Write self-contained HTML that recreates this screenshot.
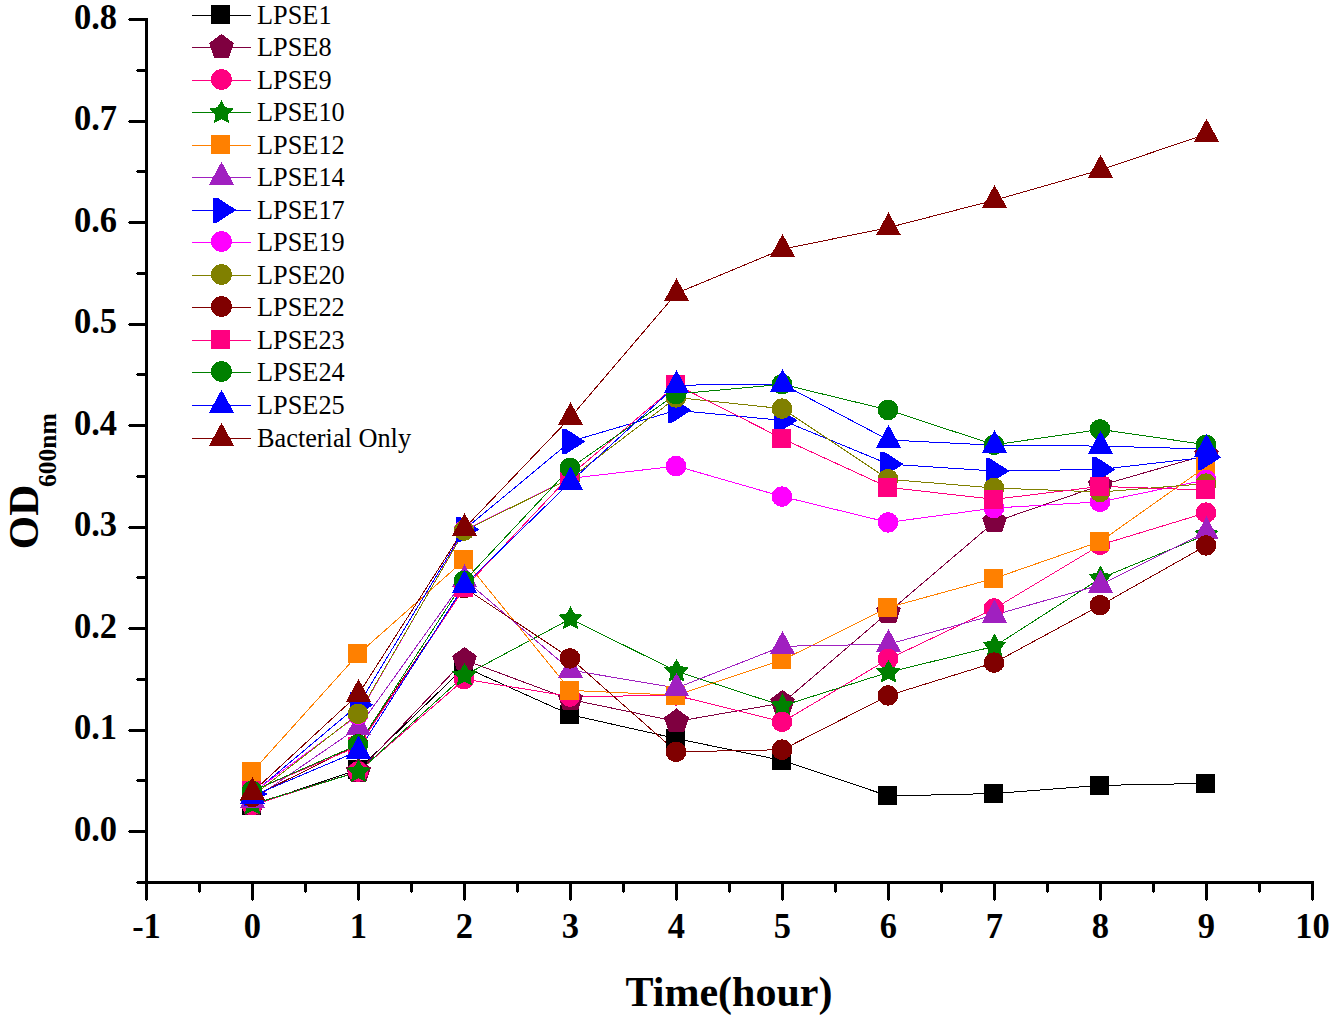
<!DOCTYPE html>
<html><head><meta charset="utf-8"><style>
html,body{margin:0;padding:0;background:#fff;}
svg{display:block;}
text{font-family:"Liberation Serif", serif;}
</style></head><body>
<svg width="1336" height="1016" viewBox="0 0 1336 1016">
<rect width="1336" height="1016" fill="#fff"/>

<g fill="#000" shape-rendering="crispEdges">
<rect x="145" y="18" width="3" height="882"/>
<rect x="137" y="881" width="1177" height="3"/>
<rect x="129" y="830.0" width="17" height="3"/>
<rect x="128" y="831.0" width="1" height="1"/>
<rect x="129" y="728.5" width="17" height="3"/>
<rect x="128" y="729.5" width="1" height="1"/>
<rect x="129" y="627.0" width="17" height="3"/>
<rect x="128" y="628.0" width="1" height="1"/>
<rect x="129" y="525.5" width="17" height="3"/>
<rect x="128" y="526.5" width="1" height="1"/>
<rect x="129" y="424.0" width="17" height="3"/>
<rect x="128" y="425.0" width="1" height="1"/>
<rect x="129" y="322.5" width="17" height="3"/>
<rect x="128" y="323.5" width="1" height="1"/>
<rect x="129" y="221.0" width="17" height="3"/>
<rect x="128" y="222.0" width="1" height="1"/>
<rect x="129" y="119.5" width="17" height="3"/>
<rect x="128" y="120.5" width="1" height="1"/>
<rect x="129" y="18.0" width="17" height="3"/>
<rect x="128" y="19.0" width="1" height="1"/>
<rect x="137" y="880.8" width="9" height="3"/>
<rect x="136" y="881.8" width="1" height="1"/>
<rect x="137" y="779.2" width="9" height="3"/>
<rect x="136" y="780.2" width="1" height="1"/>
<rect x="137" y="677.8" width="9" height="3"/>
<rect x="136" y="678.8" width="1" height="1"/>
<rect x="137" y="576.2" width="9" height="3"/>
<rect x="136" y="577.2" width="1" height="1"/>
<rect x="137" y="474.8" width="9" height="3"/>
<rect x="136" y="475.8" width="1" height="1"/>
<rect x="137" y="373.2" width="9" height="3"/>
<rect x="136" y="374.2" width="1" height="1"/>
<rect x="137" y="271.8" width="9" height="3"/>
<rect x="136" y="272.8" width="1" height="1"/>
<rect x="137" y="170.2" width="9" height="3"/>
<rect x="136" y="171.2" width="1" height="1"/>
<rect x="137" y="68.8" width="9" height="3"/>
<rect x="136" y="69.8" width="1" height="1"/>
<rect x="145.0" y="883" width="3" height="17"/>
<rect x="146.0" y="900" width="1" height="1"/>
<rect x="251.0" y="883" width="3" height="17"/>
<rect x="252.0" y="900" width="1" height="1"/>
<rect x="357.0" y="883" width="3" height="17"/>
<rect x="358.0" y="900" width="1" height="1"/>
<rect x="463.0" y="883" width="3" height="17"/>
<rect x="464.0" y="900" width="1" height="1"/>
<rect x="569.0" y="883" width="3" height="17"/>
<rect x="570.0" y="900" width="1" height="1"/>
<rect x="675.0" y="883" width="3" height="17"/>
<rect x="676.0" y="900" width="1" height="1"/>
<rect x="781.0" y="883" width="3" height="17"/>
<rect x="782.0" y="900" width="1" height="1"/>
<rect x="887.0" y="883" width="3" height="17"/>
<rect x="888.0" y="900" width="1" height="1"/>
<rect x="993.0" y="883" width="3" height="17"/>
<rect x="994.0" y="900" width="1" height="1"/>
<rect x="1099.0" y="883" width="3" height="17"/>
<rect x="1100.0" y="900" width="1" height="1"/>
<rect x="1205.0" y="883" width="3" height="17"/>
<rect x="1206.0" y="900" width="1" height="1"/>
<rect x="1311.0" y="883" width="3" height="17"/>
<rect x="1312.0" y="900" width="1" height="1"/>
<rect x="198.0" y="883" width="3" height="9"/>
<rect x="199.0" y="892" width="1" height="1"/>
<rect x="304.0" y="883" width="3" height="9"/>
<rect x="305.0" y="892" width="1" height="1"/>
<rect x="410.0" y="883" width="3" height="9"/>
<rect x="411.0" y="892" width="1" height="1"/>
<rect x="516.0" y="883" width="3" height="9"/>
<rect x="517.0" y="892" width="1" height="1"/>
<rect x="622.0" y="883" width="3" height="9"/>
<rect x="623.0" y="892" width="1" height="1"/>
<rect x="728.0" y="883" width="3" height="9"/>
<rect x="729.0" y="892" width="1" height="1"/>
<rect x="834.0" y="883" width="3" height="9"/>
<rect x="835.0" y="892" width="1" height="1"/>
<rect x="940.0" y="883" width="3" height="9"/>
<rect x="941.0" y="892" width="1" height="1"/>
<rect x="1046.0" y="883" width="3" height="9"/>
<rect x="1047.0" y="892" width="1" height="1"/>
<rect x="1152.0" y="883" width="3" height="9"/>
<rect x="1153.0" y="892" width="1" height="1"/>
<rect x="1258.0" y="883" width="3" height="9"/>
<rect x="1259.0" y="892" width="1" height="1"/>
</g>
<g font-weight="bold" font-size="34.5" fill="#000">
<text transform="translate(117,840.5) scale(1,1.05)" text-anchor="end">0.0</text>
<text transform="translate(117,739.0) scale(1,1.05)" text-anchor="end">0.1</text>
<text transform="translate(117,637.5) scale(1,1.05)" text-anchor="end">0.2</text>
<text transform="translate(117,536.0) scale(1,1.05)" text-anchor="end">0.3</text>
<text transform="translate(117,434.5) scale(1,1.05)" text-anchor="end">0.4</text>
<text transform="translate(117,333.0) scale(1,1.05)" text-anchor="end">0.5</text>
<text transform="translate(117,231.5) scale(1,1.05)" text-anchor="end">0.6</text>
<text transform="translate(117,130.0) scale(1,1.05)" text-anchor="end">0.7</text>
<text transform="translate(117,28.5) scale(1,1.05)" text-anchor="end">0.8</text>
<text transform="translate(146.5,937.5) scale(1,1.05)" text-anchor="middle">-1</text>
<text transform="translate(252.5,937.5) scale(1,1.05)" text-anchor="middle">0</text>
<text transform="translate(358.5,937.5) scale(1,1.05)" text-anchor="middle">1</text>
<text transform="translate(464.5,937.5) scale(1,1.05)" text-anchor="middle">2</text>
<text transform="translate(570.5,937.5) scale(1,1.05)" text-anchor="middle">3</text>
<text transform="translate(676.5,937.5) scale(1,1.05)" text-anchor="middle">4</text>
<text transform="translate(782.5,937.5) scale(1,1.05)" text-anchor="middle">5</text>
<text transform="translate(888.5,937.5) scale(1,1.05)" text-anchor="middle">6</text>
<text transform="translate(994.5,937.5) scale(1,1.05)" text-anchor="middle">7</text>
<text transform="translate(1100.5,937.5) scale(1,1.05)" text-anchor="middle">8</text>
<text transform="translate(1206.5,937.5) scale(1,1.05)" text-anchor="middle">9</text>
<text transform="translate(1312.5,937.5) scale(1,1.05)" text-anchor="middle">10</text>
</g>
<text x="729" y="1006" font-weight="bold" font-size="42" text-anchor="middle">Time(hour)</text>
<g transform="translate(38,517) rotate(-90)"><text x="0" y="0" font-weight="bold" font-size="43" text-anchor="middle">OD</text><text x="30" y="17.7" font-weight="bold" font-size="25.5">600nm</text></g>
<g fill="none" stroke-width="1" shape-rendering="crispEdges">
<polyline points="252.5,805.1 358.5,769.6 464.5,667.1 570.5,714.8 676.5,738.6 782.5,760.5 888.5,796.0 994.5,793.5 1100.5,785.4 1206.5,783.4" stroke="#000000"/>
<polyline points="252.5,804.1 358.5,771.6 464.5,660.0 570.5,699.5 676.5,721.5 782.5,703.0 888.5,612.3 994.5,521.9 1100.5,485.4 1206.5,454.9" stroke="#7F0040"/>
<polyline points="252.5,805.1 358.5,771.6 464.5,679.2 570.5,696.5 676.5,695.5 782.5,721.9 888.5,659.0 994.5,608.5 1100.5,544.9 1206.5,512.6" stroke="#FF0080"/>
<polyline points="252.5,804.3 358.5,771.8 464.5,675.4 570.5,618.8 676.5,671.3 782.5,705.8 888.5,672.3 994.5,646.3 1100.5,578.3 1206.5,534.7" stroke="#008000"/>
<polyline points="252.5,771.5 358.5,653.9 464.5,560.0 570.5,690.4 676.5,695.2 782.5,660.0 888.5,607.5 994.5,578.3 1100.5,541.4 1206.5,466.4" stroke="#FF8000"/>
<polyline points="252.5,800.0 358.5,727.3 464.5,579.4 570.5,670.1 676.5,688.0 782.5,646.3 888.5,644.2 994.5,614.9 1100.5,584.9 1206.5,531.8" stroke="#A020C0"/>
<polyline points="252.5,793.9 358.5,704.8 464.5,529.4 570.5,441.4 676.5,410.3 782.5,420.4 888.5,464.1 994.5,471.0 1100.5,469.4 1206.5,457.2" stroke="#0000FF"/>
<polyline points="252.5,792.9 358.5,714.8 464.5,530.0 570.5,478.3 676.5,466.1 782.5,496.6 888.5,522.4 994.5,508.0 1100.5,501.8 1206.5,479.8" stroke="#FF00FF"/>
<polyline points="252.5,796.0 358.5,713.8 464.5,530.7 570.5,478.3 676.5,397.5 782.5,408.7 888.5,479.3 994.5,488.0 1100.5,492.0 1206.5,483.6" stroke="#808000"/>
<polyline points="252.5,797.0 358.5,744.2 464.5,587.9 570.5,658.3 676.5,751.8 782.5,749.7 888.5,695.5 994.5,662.6 1100.5,605.3 1206.5,545.4" stroke="#800000"/>
<polyline points="252.5,790.9 358.5,746.2 464.5,587.9 570.5,475.2 676.5,384.9 782.5,438.7 888.5,487.4 994.5,499.3 1100.5,486.4 1206.5,490.0" stroke="#FF0080"/>
<polyline points="252.5,790.9 358.5,744.5 464.5,580.8 570.5,467.9 676.5,394.0 782.5,384.3 888.5,410.0 994.5,444.8 1100.5,429.4 1206.5,444.8" stroke="#008000"/>
<polyline points="252.5,796.0 358.5,750.9 464.5,585.1 570.5,481.9 676.5,385.2 782.5,384.2 888.5,440.0 994.5,445.2 1100.5,446.1 1206.5,449.0" stroke="#0000FF"/>
<polyline points="252.5,792.1 358.5,694.2 464.5,528.2 570.5,417.4 676.5,293.3 782.5,249.2 888.5,227.6 994.5,200.2 1100.5,170.0 1206.5,134.0" stroke="#800000"/>
</g>
<g shape-rendering="crispEdges">
<rect x="242.00" y="795.61" width="19" height="19" fill="#000000"/>
<polygon points="252.50,791.10 264.86,800.08 260.14,814.61 244.86,814.61 240.14,800.08" fill="#7F0040"/>
<circle cx="252.00" cy="805.11" r="10.3" fill="#FF0080"/>
<polygon points="252.50,791.60 256.38,798.96 264.58,800.37 258.78,806.34 259.96,814.57 252.50,810.90 245.04,814.57 246.22,806.34 240.42,800.37 248.62,798.96" fill="#008000"/>
<rect x="242.00" y="762.01" width="19" height="19" fill="#FF8000"/>
<polygon points="252.50,784.74 265.00,807.74 240.00,807.74" fill="#A020C0"/>
<polygon points="244.00,781.45 248.00,781.45 267.50,793.95 248.00,806.45 244.00,806.45" fill="#0000FF"/>
<circle cx="252.00" cy="792.93" r="10.3" fill="#FF00FF"/>
<circle cx="252.00" cy="795.98" r="10.3" fill="#808000"/>
<circle cx="252.00" cy="796.99" r="10.3" fill="#800000"/>
<rect x="242.00" y="781.40" width="19" height="19" fill="#FF0080"/>
<circle cx="252.00" cy="790.90" r="10.3" fill="#008000"/>
<polygon points="252.50,780.68 265.00,803.68 240.00,803.68" fill="#0000FF"/>
<polygon points="252.50,776.82 265.00,799.82 240.00,799.82" fill="#800000"/>
<rect x="348.00" y="760.09" width="19" height="19" fill="#000000"/>
<polygon points="358.50,758.62 370.86,767.60 366.14,782.13 350.86,782.13 346.14,767.60" fill="#7F0040"/>
<circle cx="358.00" cy="771.62" r="10.3" fill="#FF0080"/>
<polygon points="358.50,759.12 362.38,766.48 370.58,767.89 364.78,773.86 365.96,782.09 358.50,778.42 351.04,782.09 352.22,773.86 346.42,767.89 354.62,766.48" fill="#008000"/>
<rect x="348.00" y="644.38" width="19" height="19" fill="#FF8000"/>
<polygon points="358.50,711.96 371.00,734.96 346.00,734.96" fill="#A020C0"/>
<polygon points="350.00,692.33 354.00,692.33 373.50,704.83 354.00,717.33 350.00,717.33" fill="#0000FF"/>
<circle cx="358.00" cy="714.77" r="10.3" fill="#FF00FF"/>
<circle cx="358.00" cy="713.76" r="10.3" fill="#808000"/>
<circle cx="358.00" cy="744.21" r="10.3" fill="#800000"/>
<rect x="348.00" y="736.74" width="19" height="19" fill="#FF0080"/>
<circle cx="358.00" cy="744.51" r="10.3" fill="#008000"/>
<polygon points="358.50,735.61 371.00,758.61 346.00,758.61" fill="#0000FF"/>
<polygon points="358.50,678.87 371.00,701.87 346.00,701.87" fill="#800000"/>
<rect x="454.00" y="657.57" width="19" height="19" fill="#000000"/>
<polygon points="464.50,646.96 476.86,655.95 472.14,670.48 456.86,670.48 452.14,655.95" fill="#7F0040"/>
<circle cx="464.00" cy="679.25" r="10.3" fill="#FF0080"/>
<polygon points="464.50,662.69 468.38,670.05 476.58,671.47 470.78,677.43 471.96,685.67 464.50,681.99 457.04,685.67 458.22,677.43 452.42,671.47 460.62,670.05" fill="#008000"/>
<rect x="454.00" y="550.49" width="19" height="19" fill="#FF8000"/>
<polygon points="464.50,564.07 477.00,587.07 452.00,587.07" fill="#A020C0"/>
<polygon points="456.00,516.94 460.00,516.94 479.50,529.44 460.00,541.94 456.00,541.94" fill="#0000FF"/>
<circle cx="464.00" cy="530.05" r="10.3" fill="#FF00FF"/>
<circle cx="464.00" cy="530.65" r="10.3" fill="#808000"/>
<circle cx="464.00" cy="587.90" r="10.3" fill="#800000"/>
<rect x="454.00" y="578.40" width="19" height="19" fill="#FF0080"/>
<circle cx="464.00" cy="580.80" r="10.3" fill="#008000"/>
<polygon points="464.50,569.76 477.00,592.76 452.00,592.76" fill="#0000FF"/>
<polygon points="464.50,512.92 477.00,535.92 452.00,535.92" fill="#800000"/>
<rect x="560.00" y="705.27" width="19" height="19" fill="#000000"/>
<polygon points="570.50,686.55 582.86,695.53 578.14,710.07 562.86,710.07 558.14,695.53" fill="#7F0040"/>
<circle cx="570.00" cy="696.50" r="10.3" fill="#FF0080"/>
<polygon points="570.50,606.06 574.38,613.42 582.58,614.83 576.78,620.80 577.96,629.03 570.50,625.36 563.04,629.03 564.22,620.80 558.42,614.83 566.62,613.42" fill="#008000"/>
<rect x="560.00" y="680.91" width="19" height="19" fill="#FF8000"/>
<polygon points="570.50,654.82 583.00,677.82 558.00,677.82" fill="#A020C0"/>
<polygon points="562.00,428.94 566.00,428.94 585.50,441.44 566.00,453.94 562.00,453.94" fill="#0000FF"/>
<circle cx="570.00" cy="478.28" r="10.3" fill="#FF00FF"/>
<circle cx="570.00" cy="478.28" r="10.3" fill="#808000"/>
<circle cx="570.00" cy="658.34" r="10.3" fill="#800000"/>
<rect x="560.00" y="465.74" width="19" height="19" fill="#FF0080"/>
<circle cx="570.00" cy="467.93" r="10.3" fill="#008000"/>
<polygon points="570.50,466.63 583.00,489.63 558.00,489.63" fill="#0000FF"/>
<polygon points="570.50,402.08 583.00,425.08 558.00,425.08" fill="#800000"/>
<rect x="666.00" y="729.13" width="19" height="19" fill="#000000"/>
<polygon points="676.50,708.47 688.86,717.46 684.14,731.99 668.86,731.99 664.14,717.46" fill="#7F0040"/>
<circle cx="676.00" cy="695.49" r="10.3" fill="#FF0080"/>
<polygon points="676.50,658.63 680.38,665.99 688.58,667.41 682.78,673.37 683.96,681.61 676.50,677.93 669.04,681.61 670.22,673.37 664.42,667.41 672.62,665.99" fill="#008000"/>
<rect x="666.00" y="685.69" width="19" height="19" fill="#FF8000"/>
<polygon points="676.50,672.68 689.00,695.68 664.00,695.68" fill="#A020C0"/>
<polygon points="668.00,397.78 672.00,397.78 691.50,410.28 672.00,422.78 668.00,422.78" fill="#0000FF"/>
<circle cx="676.00" cy="466.10" r="10.3" fill="#FF00FF"/>
<circle cx="676.00" cy="397.49" r="10.3" fill="#808000"/>
<circle cx="676.00" cy="751.82" r="10.3" fill="#800000"/>
<rect x="666.00" y="375.40" width="19" height="19" fill="#FF0080"/>
<circle cx="676.00" cy="394.04" r="10.3" fill="#008000"/>
<polygon points="676.50,369.90 689.00,392.90 664.00,392.90" fill="#0000FF"/>
<polygon points="676.50,278.05 689.00,301.05 664.00,301.05" fill="#800000"/>
<rect x="772.00" y="750.95" width="19" height="19" fill="#000000"/>
<polygon points="782.50,690.00 794.86,698.98 790.14,713.52 774.86,713.52 770.14,698.98" fill="#7F0040"/>
<polygon points="782.50,693.14 786.38,700.50 794.58,701.92 788.78,707.88 789.96,716.12 782.50,712.44 775.04,716.12 776.22,707.88 770.42,701.92 778.62,700.50" fill="#008000"/>
<circle cx="782.00" cy="721.88" r="10.3" fill="#FF0080"/>
<rect x="772.00" y="650.46" width="19" height="19" fill="#FF8000"/>
<polygon points="782.50,630.96 795.00,653.96 770.00,653.96" fill="#A020C0"/>
<polygon points="774.00,407.92 778.00,407.92 797.50,420.42 778.00,432.92 774.00,432.92" fill="#0000FF"/>
<circle cx="782.00" cy="496.55" r="10.3" fill="#FF00FF"/>
<circle cx="782.00" cy="408.65" r="10.3" fill="#808000"/>
<circle cx="782.00" cy="749.69" r="10.3" fill="#800000"/>
<rect x="772.00" y="429.19" width="19" height="19" fill="#FF0080"/>
<circle cx="782.00" cy="384.29" r="10.3" fill="#008000"/>
<polygon points="782.50,368.89 795.00,391.89 770.00,391.89" fill="#0000FF"/>
<polygon points="782.50,233.89 795.00,256.89 770.00,256.89" fill="#800000"/>
<rect x="878.00" y="786.48" width="19" height="19" fill="#000000"/>
<polygon points="888.50,599.26 900.86,608.24 896.14,622.78 880.86,622.78 876.14,608.24" fill="#7F0040"/>
<rect x="878.00" y="597.99" width="19" height="19" fill="#FF8000"/>
<polygon points="888.50,628.93 901.00,651.93 876.00,651.93" fill="#A020C0"/>
<circle cx="888.00" cy="658.95" r="10.3" fill="#FF0080"/>
<polygon points="888.50,659.65 892.38,667.01 900.58,668.42 894.78,674.39 895.96,682.62 888.50,678.95 881.04,682.62 882.22,674.39 876.42,668.42 884.62,667.01" fill="#008000"/>
<polygon points="880.00,451.57 884.00,451.57 903.50,464.07 884.00,476.57 880.00,476.57" fill="#0000FF"/>
<circle cx="888.00" cy="522.43" r="10.3" fill="#FF00FF"/>
<circle cx="888.00" cy="479.30" r="10.3" fill="#808000"/>
<circle cx="888.00" cy="695.49" r="10.3" fill="#800000"/>
<rect x="878.00" y="477.91" width="19" height="19" fill="#FF0080"/>
<circle cx="888.00" cy="409.97" r="10.3" fill="#008000"/>
<polygon points="888.50,424.71 901.00,447.71 876.00,447.71" fill="#0000FF"/>
<polygon points="888.50,212.28 901.00,235.28 876.00,235.28" fill="#800000"/>
<rect x="984.00" y="784.04" width="19" height="19" fill="#000000"/>
<polygon points="994.50,508.92 1006.86,517.91 1002.14,532.44 986.86,532.44 982.14,517.91" fill="#7F0040"/>
<circle cx="994.00" cy="608.50" r="10.3" fill="#FF0080"/>
<polygon points="994.50,633.56 998.38,640.92 1006.58,642.34 1000.78,648.30 1001.96,656.54 994.50,652.86 987.04,656.54 988.22,648.30 982.42,642.34 990.62,640.92" fill="#008000"/>
<rect x="984.00" y="568.76" width="19" height="19" fill="#FF8000"/>
<polygon points="994.50,599.60 1007.00,622.60 982.00,622.60" fill="#A020C0"/>
<polygon points="986.00,458.47 990.00,458.47 1009.50,470.97 990.00,483.47 986.00,483.47" fill="#0000FF"/>
<circle cx="994.00" cy="508.02" r="10.3" fill="#FF00FF"/>
<circle cx="994.00" cy="488.02" r="10.3" fill="#808000"/>
<circle cx="994.00" cy="662.60" r="10.3" fill="#800000"/>
<rect x="984.00" y="489.79" width="19" height="19" fill="#FF0080"/>
<circle cx="994.00" cy="444.78" r="10.3" fill="#008000"/>
<polygon points="994.50,429.89 1007.00,452.89 982.00,452.89" fill="#0000FF"/>
<polygon points="994.50,184.87 1007.00,207.87 982.00,207.87" fill="#800000"/>
<rect x="1090.00" y="775.92" width="19" height="19" fill="#000000"/>
<polygon points="1100.50,472.38 1112.86,481.37 1108.14,495.90 1092.86,495.90 1088.14,481.37" fill="#7F0040"/>
<circle cx="1100.00" cy="544.86" r="10.3" fill="#FF0080"/>
<polygon points="1100.50,565.56 1104.38,572.92 1112.58,574.33 1106.78,580.30 1107.96,588.53 1100.50,584.86 1093.04,588.53 1094.22,580.30 1088.42,574.33 1096.62,572.92" fill="#008000"/>
<rect x="1090.00" y="531.91" width="19" height="19" fill="#FF8000"/>
<polygon points="1100.50,569.56 1113.00,592.56 1088.00,592.56" fill="#A020C0"/>
<polygon points="1092.00,456.95 1096.00,456.95 1115.50,469.45 1096.00,481.95 1092.00,481.95" fill="#0000FF"/>
<circle cx="1100.00" cy="501.83" r="10.3" fill="#FF00FF"/>
<circle cx="1100.00" cy="491.98" r="10.3" fill="#808000"/>
<circle cx="1100.00" cy="605.26" r="10.3" fill="#800000"/>
<rect x="1090.00" y="476.90" width="19" height="19" fill="#FF0080"/>
<circle cx="1100.00" cy="429.36" r="10.3" fill="#008000"/>
<polygon points="1100.50,430.80 1113.00,453.80 1088.00,453.80" fill="#0000FF"/>
<polygon points="1100.50,154.72 1113.00,177.72 1088.00,177.72" fill="#800000"/>
<rect x="1196.00" y="773.89" width="19" height="19" fill="#000000"/>
<polygon points="1206.50,441.94 1218.86,450.92 1214.14,465.45 1198.86,465.45 1194.14,450.92" fill="#7F0040"/>
<circle cx="1206.00" cy="512.59" r="10.3" fill="#FF0080"/>
<polygon points="1206.50,522.01 1210.38,529.37 1218.58,530.79 1212.78,536.75 1213.96,544.99 1206.50,541.31 1199.04,544.99 1200.22,536.75 1194.42,530.79 1202.62,529.37" fill="#008000"/>
<rect x="1196.00" y="456.90" width="19" height="19" fill="#FF8000"/>
<polygon points="1206.50,516.47 1219.00,539.47 1194.00,539.47" fill="#A020C0"/>
<polygon points="1198.00,444.67 1202.00,444.67 1221.50,457.17 1202.00,469.67 1198.00,469.67" fill="#0000FF"/>
<circle cx="1206.00" cy="479.80" r="10.3" fill="#FF00FF"/>
<circle cx="1206.00" cy="483.56" r="10.3" fill="#808000"/>
<circle cx="1206.00" cy="545.37" r="10.3" fill="#800000"/>
<rect x="1196.00" y="480.45" width="19" height="19" fill="#FF0080"/>
<circle cx="1206.00" cy="444.78" r="10.3" fill="#008000"/>
<polygon points="1206.50,433.75 1219.00,456.75 1194.00,456.75" fill="#0000FF"/>
<polygon points="1206.50,118.69 1219.00,141.69 1194.00,141.69" fill="#800000"/>
</g>
<g shape-rendering="crispEdges">
<rect x="192" y="15" width="59" height="1" fill="#000000"/>
<rect x="211.00" y="5.00" width="19" height="19" fill="#000000"/>
<rect x="192" y="47" width="59" height="1" fill="#7F0040"/>
<polygon points="221.50,34.00 233.86,42.98 229.14,57.52 213.86,57.52 209.14,42.98" fill="#7F0040"/>
<rect x="192" y="80" width="59" height="1" fill="#FF0080"/>
<circle cx="221.50" cy="79.50" r="10.5" fill="#FF0080"/>
<rect x="192" y="112" width="59" height="1" fill="#008000"/>
<polygon points="221.50,99.80 225.38,107.16 233.58,108.58 227.78,114.54 228.96,122.77 221.50,119.10 214.04,122.77 215.22,114.54 209.42,108.58 217.62,107.16" fill="#008000"/>
<rect x="192" y="145" width="59" height="1" fill="#FF8000"/>
<rect x="211.00" y="135.00" width="19" height="19" fill="#FF8000"/>
<rect x="192" y="177" width="59" height="1" fill="#A020C0"/>
<polygon points="221.50,161.70 234.00,184.70 209.00,184.70" fill="#A020C0"/>
<rect x="192" y="210" width="59" height="1" fill="#0000FF"/>
<polygon points="213.00,197.50 217.00,197.50 236.50,210.00 217.00,222.50 213.00,222.50" fill="#0000FF"/>
<rect x="192" y="242" width="59" height="1" fill="#FF00FF"/>
<circle cx="221.50" cy="241.50" r="10.5" fill="#FF00FF"/>
<rect x="192" y="275" width="59" height="1" fill="#808000"/>
<circle cx="221.50" cy="274.50" r="10.5" fill="#808000"/>
<rect x="192" y="307" width="59" height="1" fill="#800000"/>
<circle cx="221.50" cy="306.50" r="10.5" fill="#800000"/>
<rect x="192" y="340" width="59" height="1" fill="#FF0080"/>
<rect x="211.00" y="330.00" width="19" height="19" fill="#FF0080"/>
<rect x="192" y="372" width="59" height="1" fill="#008000"/>
<circle cx="221.50" cy="371.50" r="10.5" fill="#008000"/>
<rect x="192" y="405" width="59" height="1" fill="#0000FF"/>
<polygon points="221.50,389.70 234.00,412.70 209.00,412.70" fill="#0000FF"/>
<rect x="192" y="438" width="59" height="1" fill="#800000"/>
<polygon points="221.50,422.70 234.00,445.70 209.00,445.70" fill="#800000"/>
</g>
<g font-size="26.3" fill="#000">
<text x="257" y="23.5">LPSE1</text>
<text x="257" y="55.5">LPSE8</text>
<text x="257" y="88.5">LPSE9</text>
<text x="257" y="120.5">LPSE10</text>
<text x="257" y="153.5">LPSE12</text>
<text x="257" y="185.5">LPSE14</text>
<text x="257" y="218.5">LPSE17</text>
<text x="257" y="250.5">LPSE19</text>
<text x="257" y="283.5">LPSE20</text>
<text x="257" y="315.5">LPSE22</text>
<text x="257" y="348.5">LPSE23</text>
<text x="257" y="380.5">LPSE24</text>
<text x="257" y="413.5">LPSE25</text>
<text x="257" y="446.5">Bacterial Only</text>
</g>
</svg></body></html>
